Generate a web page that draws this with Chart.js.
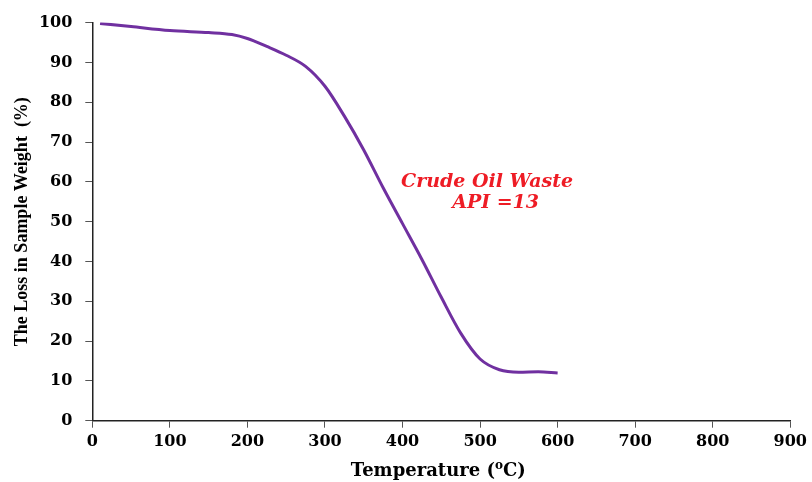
<!DOCTYPE html>
<html>
<head>
<meta charset="utf-8">
<script src="https://cdn.jsdelivr.net/npm/chart.js@4/dist/chart.umd.min.js"></script>
<style>
  html, body { margin: 0; padding: 0; background: #ffffff; }
  #wrap { width: 812px; height: 482px; position: relative; }
</style>
</head>
<body>
<div id="wrap"><canvas id="tga"></canvas></div>
<script>
// Thermogravimetric curve of crude oil waste (API 13)
const temperature = [10, 50, 100, 150, 180, 200, 225, 250, 275, 300, 325, 350, 375,
                     400, 425, 450, 475, 500, 525, 550, 575, 600];
const weightLoss  = [99.8, 99.0, 98.0, 97.5, 97.0, 96.0, 94.0, 91.8, 89.0, 84.0, 76.5, 68.0, 58.5,
                     49.5, 40.5, 31.0, 22.0, 15.5, 12.8, 12.2, 12.3, 12.0];
const sampleLabel = ['Crude Oil Waste', 'API =13'];
const xTitle = { before: 'Temperature (', sup: 'o', after: 'C)' };
const yTitle = 'The Loss in Sample Weight  (%)';

const points = temperature.map((t, i) => ({ x: t, y: weightLoss[i] }));

// Red italic sample label and the x-axis title with a superscript degree mark
const textPlugin = {
  id: 'extraText',
  afterDraw(chart) {
    const { ctx, scales } = chart;
    ctx.save();
    ctx.fillStyle = '#ee1c25';
    ctx.font = 'italic bold 19px "DejaVu Serif"';
    ctx.textAlign = 'center';
    ctx.textBaseline = 'alphabetic';
    ctx.fillText(sampleLabel[0], scales.x.getPixelForValue(509), scales.y.getPixelForValue(58.7));
    ctx.fillText(sampleLabel[1], scales.x.getPixelForValue(520), scales.y.getPixelForValue(53.5));

    // axis title
    const big = 'bold 18px "DejaVu Serif"';
    const small = 'bold 12px "DejaVu Serif"';
    ctx.fillStyle = '#000';
    ctx.textAlign = 'left';
    ctx.font = big;
    const w1 = ctx.measureText(xTitle.before).width;
    const w3 = ctx.measureText(xTitle.after).width;
    ctx.font = small;
    const w2 = ctx.measureText(xTitle.sup).width;
    const total = w1 + w2 + w3;
    const cx = (chart.chartArea.left + chart.chartArea.right) / 2 - 3;
    const base = 476;
    let x = cx - total / 2;
    ctx.font = big;
    ctx.fillText(xTitle.before, x, base);
    x += w1;
    ctx.font = small;
    ctx.fillText(xTitle.sup, x, base - 7);
    x += w2;
    ctx.font = big;
    ctx.fillText(xTitle.after, x, base);
    ctx.restore();
  }
};

new Chart(document.getElementById('tga'), {
  type: 'line',
  data: {
    datasets: [{
      data: points,
      borderColor: '#7030a0',
      borderWidth: 3,
      pointRadius: 0,
      fill: false,
      cubicInterpolationMode: 'monotone'
    }]
  },
  options: {
    responsive: true,
    maintainAspectRatio: false,
    animation: false,
    layout: { padding: { left: 0, right: 19.5, top: 20.7, bottom: 0 } },
    plugins: { legend: { display: false }, tooltip: { enabled: false } },
    scales: {
      x: {
        type: 'linear',
        min: 0, max: 900,
        ticks: {
          stepSize: 100,
          color: '#000',
          padding: 5,
          font: { family: '"DejaVu Serif"', weight: 'bold', size: 16 }
        },
        grid: { drawOnChartArea: false, tickLength: 7, tickColor: '#555', tickWidth: 1 },
        border: { color: '#222', width: 1.5 },
        afterFit(scale) { scale.height = 61.3; }
      },
      y: {
        min: 0, max: 100,
        ticks: {
          stepSize: 10,
          color: '#000',
          padding: 13,
          font: { family: '"DejaVu Serif"', weight: 'bold', size: 16 }
        },
        grid: { drawOnChartArea: false, tickLength: 7, tickColor: '#555', tickWidth: 1 },
        border: { color: '#222', width: 1.5 },
        title: {
          display: true,
          text: yTitle,
          color: '#000',
          font: { family: '"Liberation Serif"', weight: 'bold', size: 18 },
          padding: { top: 12, bottom: 0 }
        },
        afterFit(scale) { scale.width = 92.3; }
      }
    }
  },
  plugins: [textPlugin]
});
</script>
</body>
</html>
